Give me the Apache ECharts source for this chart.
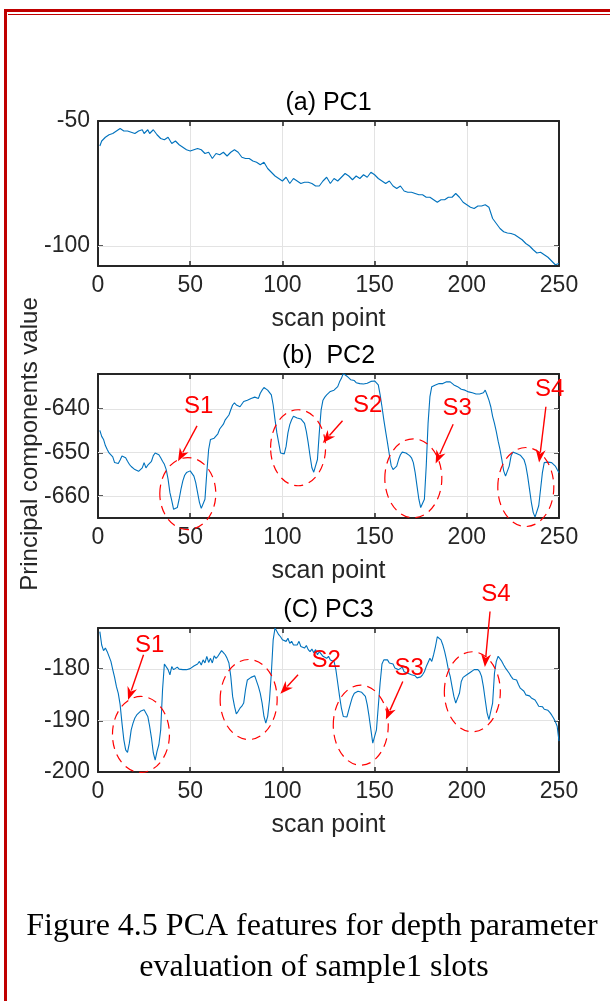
<!DOCTYPE html>
<html><head><meta charset="utf-8">
<script src="https://cdn.jsdelivr.net/npm/echarts@6/dist/echarts.min.js"></script>
<style>html,body{margin:0;padding:0;background:#fff;overflow:hidden}#c{width:610px;height:1001px}</style>
</head><body><div id="c"></div>
<script>
// ---------------- data ----------------
const pc1X = [1,2,4,6,8,10,12,13,14,16,18,20,22,24,25,27,28,30,32,34,36,38,40,42,44,46,48,50,52,54,56,58,60,62,64,66,68,70,72,74,76,78,80,82,84,86,88,90,92,94,96,98,100,102,104,106,108,110,112,114,116,118,120,122,124,126,128,130,132,134,136,138,140,142,144,146,148,150,152,154,156,158,160,162,164,166,168,170,172,174,176,178,180,182,184,186,188,190,192,194,196,198,200,202,204,206,208,210,212,214,216,218,220,222,224,226,228,230,232,234,236,238,240,242,244,246,248,250];
const pc1Y = [-60,-58,-56.5,-55.5,-55,-54,-53,-52.5,-54,-54,-54.5,-55,-54,-53.5,-55,-53.5,-55,-53.5,-55.5,-57,-57.5,-56.5,-59,-58,-59.5,-60.5,-61.5,-62,-61.5,-61,-61.5,-63,-62.5,-65,-63,-63.5,-62.5,-64,-62.5,-61.5,-62.5,-64.5,-65,-65,-66,-66.5,-67.5,-66.5,-69,-70.5,-72,-73,-74,-72.5,-75,-73,-74,-75,-74.5,-74.5,-75,-76,-76,-74,-72.5,-75,-73,-74,-72.5,-71,-72,-73.5,-72,-73,-71.5,-72.5,-70.5,-71.5,-73,-74,-75,-74,-76,-77,-76,-78,-78.5,-78.5,-79,-79.5,-79.5,-80.5,-80.5,-81.5,-82.5,-81.5,-81.5,-80.5,-80.5,-79,-80.5,-82.5,-83.5,-84.5,-85,-84,-84,-83.5,-84.5,-89,-91,-93,-94.3,-94.8,-95,-95.5,-96.5,-97.5,-99,-100,-101.5,-102.8,-102.5,-103.5,-104.5,-106,-107.5,-107];

const pc2Y = [-644.9,-646.3,-647,-648.4,-649.3,-650.1,-649.8,-651,-652.3,-652.7,-652.5,-651.7,-650.8,-650.8,-651.2,-652,-652.7,-653.2,-653.5,-653.9,
-654.2,-654.3,-654,-653.5,-652.3,-653.5,-652.9,-652.7,-652,-650.7,-650.1,-649.9,-650.5,-651.2,-652,-652.7,-653.9,-656.1,-659.2,-661,
-663,-663.1,-662.6,-660.7,-658.4,-656.5,-655.2,-654.6,-654.3,-654.2,-654.6,-655.4,-656.9,-659.2,-661.4,-662.8,-663.1,-660.7,-654.6,-649.3,
-647,-646.8,-646.7,-646.3,-645.7,-644.6,-644.2,-643.5,-642.5,-642.1,-641.4,-640.2,-639.1,-638.6,-639.1,-639.1,-639.5,-639.1,-638.3,-638.5,
-638,-638.1,-637.6,-638,-637.3,-637,-637.6,-636.4,-635.7,-635.1,-635.3,-635.7,-636.1,-636.8,-639.1,-642.5,-645.5,-647.8,-650.1,-650.5,
-650.3,-648.6,-645.5,-643.6,-642.5,-641.7,-641.9,-642.1,-642.3,-642.3,-642.5,-643.3,-645.2,-647.8,-650.8,-653.5,-654.5,-654.2,-651.6,-645.5,
-640.2,-638,-637.3,-636.8,-636.4,-636,-636.3,-635.7,-635.5,-634.9,-633.8,-633,-631.9,-632.3,-632.5,-632.8,-633.3,-633.1,-633.5,-634,
-634.3,-634.2,-634.5,-634.3,-634,-634.1,-633.9,-633.7,-633.4,-633.6,-633.8,-634.5,-636.8,-639.5,-642.5,-645.2,-647.8,-650.5,-653,-653.9,
-654,-653.1,-651.6,-650.5,-649.9,-649.9,-650.1,-650.3,-650.7,-651.2,-652.3,-654.6,-657.7,-660.7,-662.6,-662.8,-660.7,-653.1,-643.3,-637.2,
-634.9,-634.5,-634.5,-634.9,-634.2,-634.5,-634.2,-634.3,-633.8,-633.4,-633.8,-634.2,-634.5,-634.8,-634.9,-635.3,-635.5,-635.7,-635.7,-635.8,
-636.1,-636.1,-636.3,-636.4,-636.6,-636.3,-636.6,-636.8,-636.3,-635.7,-636.8,-638,-639.5,-641.7,-643.3,-645.2,-647.4,-649.3,-651.6,-654.2,
-655.4,-655,-653.1,-650.8,-649.9,-649.9,-650.2,-650.4,-650.6,-651,-651.6,-653,-655.4,-658.4,-661.4,-663.7,-664.8,-664.4,-662.2,-658.4,
-654.6,-652.3,-651.9,-652.2,-652.3,-652.3,-652.5,-653.1,-653.9,-654.6];

const pc3Y = [-172.7,-175.3,-176.4,-175.9,-176.6,-176.9,-178.5,-180.1,-181.6,-183.4,-184.7,-186.9,-190.5,-193.7,-195.7,-196.2,-194.4,-191.8,-190.5,-189.5,
-188.9,-188.7,-188.2,-188.5,-187.9,-188.2,-189.2,-191.1,-193.4,-196.3,-197.7,-196,-194.7,-191.8,-184,-179,-179.2,-180.1,-181.1,-179.5,
-180.1,-179.8,-179.6,-180,-180.1,-180.1,-180,-180.1,-180.1,-179.9,-179.8,-179.4,-179.6,-179,-178.5,-179.2,-178.2,-178.8,-177.5,-178.7,
-177.9,-178.8,-177.4,-177.9,-177.5,-177.2,-176.4,-176.8,-177.2,-177.9,-178.8,-181.4,-185.3,-187.2,-188.7,-188.2,-187.6,-187.2,-186.6,-184,
-182.1,-182,-181.6,-181.5,-181.3,-181.6,-183.4,-184.7,-186.6,-189.2,-190.5,-189.2,-186,-180.8,-174.3,-172,-172.2,-173.3,-173.7,-174.3,
-174,-174.6,-174,-175,-174.6,-175.3,-175,-175.3,-174.6,-175.6,-175.3,-175.9,-175.4,-176.2,-176.6,-176.1,-176.8,-176.2,-177.2,-176.6,
-176.9,-177.5,-177.2,-177.9,-177.5,-178.2,-177.9,-178.5,-180.1,-182.7,-185.3,-187.6,-189.2,-189.5,-189.3,-187.9,-186.6,-185.4,-184.7,-184.7,
-184.3,-184,-184.5,-184.3,-185.3,-186.9,-189.2,-191.8,-194.4,-194.7,-191.8,-187.2,-182.7,-179,-178.2,-177.9,-178.2,-178.8,-178.5,-179,
-179.8,-179.5,-180.1,-179.8,-179.6,-180.5,-180.3,-180.8,-180.7,-181.1,-180.8,-181.3,-181.7,-181.4,-181.5,-181.1,-180.5,-179.5,-178.7,-177.9,
-178.5,-177.2,-175.6,-173.7,-174,-174.3,-175.3,-176.6,-178.2,-180.1,-181.4,-183.4,-185.3,-186.6,-186.5,-184.7,-182.4,-181.6,-181.3,-181.1,
-180.8,-180.6,-180.5,-180.1,-180,-180.1,-180.5,-181.4,-183.4,-186,-188.5,-189.8,-189.5,-186.6,-180.8,-178.5,-177.5,-177.8,-178.5,-179.2,
-179.8,-180.1,-180.8,-181.4,-181.9,-181.6,-182.1,-183,-183.7,-184,-184.3,-185,-185.3,-185.2,-185.6,-185.8,-186,-186.6,-187.2,-187.5,
-187.3,-187.8,-187.9,-188,-188.4,-188.9,-189.5,-190.2,-191.1,-194];

const xTicks = [0, 50, 100, 150, 200, 250];
const yTicks = [[-100, -50], [-660, -650, -640], [-200, -190, -180]];
const yRanges = [[-108, -50], [-665, -632], [-200, -172]];
const xRange = [0, 250];
const panelTitles = ['(a) PC1', '(b)  PC2', '(C) PC3'];
const xName = 'scan point';
const yName = 'Principal components value';
const captionLines = ['Figure 4.5 PCA features for depth parameter', 'evaluation of sample1 slots'];

// annotations (data coordinates of each panel)
const pc2Labels = ['S1', 'S2', 'S3', 'S4'];
const pc2LabelPos = [[54.6, -639.5], [146.2, -639.1], [194.8, -639.8], [244.9, -635.5]];
const pc2ArrowFrom = [[53.7, -643.9], [132.6, -642.7], [192.6, -643.5], [242.9, -639.5]];
const pc2ArrowTo = [[43.4, -652.0], [121.9, -647.8], [183.1, -652.5], [239.2, -652.3]];
const pc2Ellipse = [[48.7, -659.4], [108.5, -648.9], [171.0, -655.9], [232.0, -657.9]];
const pc3Labels = ['S1', 'S2', 'S3', 'S4'];
const pc3LabelPos = [[28.0, -175.3], [123.8, -178.2], [168.7, -179.8], [215.8, -165.4]];
const pc3ArrowFrom = [[24.7, -177.2], [108.5, -181.1], [165.3, -182.4], [212.6, -168.8]];
const pc3ArrowTo = [[16.3, -186.0], [98.9, -184.8], [156.1, -189.8], [209.8, -179.6]];
const pc3Ellipse = [[23.3, -192.7], [81.7, -185.9], [142.5, -190.9], [203.0, -184.4]];

// ---------------- layout / style ----------------
const SANS = "'Liberation Sans', Arial, Helvetica, sans-serif";
const SERIF = "'Liberation Serif', 'Times New Roman', serif";
const AXC = '#262626';
const GRIDC = '#e3e3e3';
const LINEC = '#0072BD';
const RED = '#ff0000';
const gridTops = [121, 374, 628];
const gridHeights = [145, 144, 144];
const gridLeft = 98, gridRight = 51;
const ellR = [[[28, 36], [27.5, 38], [28.5, 39.5], [28, 39.5]], [[28.5, 38], [28.5, 40], [27.5, 40], [28, 40]]];

const chart = echarts.init(document.getElementById('c'), null, {renderer: 'canvas'});

const grids = gridTops.map((t, i) => ({left: gridLeft, right: gridRight, top: t, height: gridHeights[i], containLabel: false}));

const xAxes = [], yAxes = [];
for (let i = 0; i < 3; i++) {
  xAxes.push({
    type: 'value', gridIndex: i, position: 'bottom', min: xRange[0], max: xRange[1], interval: 50,
    axisLine: {show: true, onZero: false, lineStyle: {color: AXC, width: 2}},
    axisTick: {show: true, inside: true, length: 5, lineStyle: {color: AXC, width: 1.5}},
    axisLabel: {show: true, margin: 8, color: AXC, fontSize: 23, fontFamily: SANS},
    splitLine: {show: true, lineStyle: {color: GRIDC, width: 1}},
    name: xName, nameLocation: 'middle', nameGap: 41,
    nameTextStyle: {color: AXC, fontSize: 25, fontFamily: SANS}
  });
}
for (let i = 0; i < 3; i++) {
  xAxes.push({
    type: 'value', gridIndex: i, position: 'top', min: xRange[0], max: xRange[1], interval: 50,
    axisLine: {show: true, onZero: false, lineStyle: {color: AXC, width: 2}},
    axisTick: {show: true, inside: true, length: 5, lineStyle: {color: AXC, width: 1.5}},
    axisLabel: {show: false}, splitLine: {show: false}
  });
}
for (let i = 0; i < 3; i++) {
  yAxes.push({
    type: 'value', gridIndex: i, position: 'left', min: yRanges[i][0], max: yRanges[i][1],
    axisLine: {show: true, onZero: false, lineStyle: {color: AXC, width: 2}},
    axisTick: {show: true, inside: true, length: 5, customValues: yTicks[i], lineStyle: {color: AXC, width: 1.5}},
    axisLabel: {show: true, margin: 8, color: AXC, fontSize: 23, fontFamily: SANS, customValues: yTicks[i]},
    splitLine: {show: false}
  });
}
for (let i = 0; i < 3; i++) {
  yAxes.push({
    type: 'value', gridIndex: i, position: 'right', min: yRanges[i][0], max: yRanges[i][1],
    axisLine: {show: true, onZero: false, lineStyle: {color: AXC, width: 2}},
    axisTick: {show: true, inside: true, length: 5, customValues: yTicks[i], lineStyle: {color: AXC, width: 1.5}},
    axisLabel: {show: false}, splitLine: {show: false}
  });
}

function gridMarkLine(i) {
  return {
    silent: true, symbol: 'none', z: 1, animation: false,
    label: {show: false},
    lineStyle: {color: GRIDC, width: 1, type: 'solid'},
    emphasis: {disabled: true},
    data: yTicks[i].filter(v => v > yRanges[i][0] && v < yRanges[i][1]).map(v => ({yAxis: v}))
  };
}

const seriesData = [
  pc1X.map((x, k) => [x, pc1Y[k]]),
  pc2Y.map((y, k) => [k + 1, y]),
  pc3Y.map((y, k) => [k + 1, y])
];

const series = seriesData.map((d, i) => ({
  type: 'line', xAxisIndex: i, yAxisIndex: i, data: d, showSymbol: false, symbol: 'none',
  lineStyle: {color: LINEC, width: 1.1}, z: 3, animation: false, silent: true,
  markLine: gridMarkLine(i)
}));

chart.setOption({
  animation: false,
  backgroundColor: '#ffffff',
  grid: grids,
  xAxis: xAxes,
  yAxis: yAxes,
  series: series
});

// ---------------- graphics ----------------
const g = [];
// page border
g.push({type: 'line', shape: {x1: 4, y1: 10.5, x2: 610, y2: 10.5}, style: {stroke: '#c00000', lineWidth: 3}, z: 100});
g.push({type: 'line', shape: {x1: 8, y1: 14.5, x2: 610, y2: 14.5}, style: {stroke: '#c00000', lineWidth: 1}, z: 100});
g.push({type: 'line', shape: {x1: 5.5, y1: 9, x2: 5.5, y2: 1001}, style: {stroke: '#c00000', lineWidth: 3}, z: 100});

// panel titles
const centerX = gridLeft + (610 - gridLeft - gridRight) / 2;
panelTitles.forEach((t, i) => {
  g.push({type: 'text', x: centerX, y: gridTops[i] - 18, style: {text: t, fill: '#000', font: '25px ' + SANS, align: 'center', verticalAlign: 'middle'}, z: 100});
});
// shared y name
g.push({type: 'text', x: 30, y: 444, rotation: Math.PI / 2, style: {text: yName, fill: AXC, font: '24px ' + SANS, align: 'center', verticalAlign: 'middle'}, z: 100});
// caption
g.push({type: 'text', x: 312, y: 927, style: {text: captionLines[0], fill: '#000', font: '32px ' + SERIF, align: 'center', verticalAlign: 'middle'}, z: 100});
g.push({type: 'text', x: 314, y: 968, style: {text: captionLines[1], fill: '#000', font: '32px ' + SERIF, align: 'center', verticalAlign: 'middle'}, z: 100});

function px(i, p) { return chart.convertToPixel({xAxisIndex: i, yAxisIndex: i}, p); }
function arrow(p0, p1) {
  const dx = p1[0] - p0[0], dy = p1[1] - p0[1];
  const L = Math.hypot(dx, dy), ux = dx / L, uy = dy / L;
  const hl = 13, hw = 5;
  const bx = p1[0] - ux * hl, by = p1[1] - uy * hl;
  const out = [];
  out.push({type: 'line', shape: {x1: p0[0], y1: p0[1], x2: bx + ux * 3, y2: by + uy * 3}, style: {stroke: RED, lineWidth: 1.4}, z: 110});
  out.push({type: 'polygon', shape: {points: [[p1[0], p1[1]], [bx - uy * hw, by + ux * hw], [bx + ux * 4, by + uy * 4], [bx + uy * hw, by - ux * hw]]}, style: {fill: RED}, z: 110});
  return out;
}
function annotate(i, labels, lp, af, at, el, radii) {
  labels.forEach((s, k) => {
    const c = px(i, el[k]);
    g.push({type: 'ellipse', shape: {cx: c[0], cy: c[1], rx: radii[k][0], ry: radii[k][1]}, style: {fill: null, stroke: RED, lineWidth: 1.2, lineDash: [9, 6]}, z: 105});
    arrow(px(i, af[k]), px(i, at[k])).forEach(o => g.push(o));
    const t = px(i, lp[k]);
    g.push({type: 'text', x: t[0], y: t[1], style: {text: s, fill: RED, font: '24px ' + SANS, align: 'center', verticalAlign: 'middle'}, z: 110});
  });
}
annotate(1, pc2Labels, pc2LabelPos, pc2ArrowFrom, pc2ArrowTo, pc2Ellipse, ellR[0]);
annotate(2, pc3Labels, pc3LabelPos, pc3ArrowFrom, pc3ArrowTo, pc3Ellipse, ellR[1]);

chart.setOption({graphic: {elements: g}});
</script>
</body></html>
